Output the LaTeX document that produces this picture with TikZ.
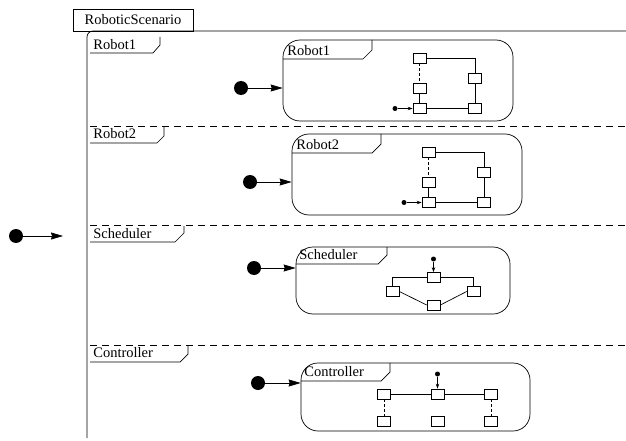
\documentclass[tikz,border=0pt]{standalone}
\usepackage{fontspec}
\setmainfont{Liberation Serif}
\usetikzlibrary{arrows.meta}

\begin{document}
\begin{tikzpicture}[x=1pt, y=-1pt, line width=0.7pt,
    font=\fontsize{14.5}{16}\selectfont,
    initdot/.style ={circle, fill, inner sep=0pt, minimum size=14pt},
    smalldot/.style ={circle, fill, inner sep=0pt, minimum size=5pt},
    statebox/.style ={draw, rectangle, rounded corners=17pt, inner sep=0pt},
    subbox/.style ={draw, rectangle, minimum width=13pt, minimum height=10pt, inner sep=0pt},
    lbl/.style ={anchor=west, inner sep=0pt},
    bigarrow/.style ={-{Stealth[length=12pt, width=7pt, inset=1pt]}},
    smallarrow/.style ={-{Stealth[length=5pt, width=3.5pt]}},
    shortdash/.style ={dash pattern=on 3pt off 2pt},
    longdash/.style ={dash pattern=on 7pt off 5pt}]
   \useasboundingbox (0,0) rectangle (626,441);

   % outer state and its regions
   \node[draw, minimum width=120, minimum height=22, inner sep=0pt] (scen) at (133,20) {RoboticScenario};
   \draw[rounded corners=6] (87,438) -- (87,31) -- (626,31);
   \draw[longdash] (90,126) -- (626,126);
   \draw[longdash] (90,225) -- (626,225);
   \draw[longdash] (90,345) -- (626,345);

   \node[lbl] (regrobot1) at (93,45) {Robot1};
   \draw (160,37) -- (160,45) -- (153,53) -- (90,53);
   \node[lbl] (regrobot2) at (93,134) {Robot2};
   \draw (164,127) -- (164,136) -- (157,143) -- (90,143);
   \node[lbl] (regsched) at (93,234) {Scheduler};
   \draw (184,226) -- (184,233) -- (175,242) -- (90,242);
   \node[lbl] (regctrl) at (93,353) {Controller};
   \draw (188,346) -- (188,354) -- (180,362) -- (90,362);

   \node[initdot] (init0) at (16,236) {};
   \coordinate (enter0) at (63,236);
   \draw[bigarrow] (init0) -- (enter0);

   % the two robots
   \foreach \n/\dx/\dy in {1/0/0, 2/9/94}{
   \begin{scope}[shift={(\dx,\dy)}]
   \node[statebox, minimum width=230, minimum height=81] (robot\n) at (398,80.5) {};
   \node[lbl] (robotlbl\n) at (287,51) {Robot\n};
   \draw (283,59) -- (363,59) -- (372,50) -- (372,40);
   \node[initdot] (rinit\n) at (241,88) {};
   \draw[bigarrow] (rinit\n) -- (robot\n.west |- rinit\n);

   \node[subbox] (ra\n) at (419.5,58) {};
   \node[subbox] (rb\n) at (475,78) {};
   \node[subbox] (rc\n) at (419.5,88.5) {};
   \node[subbox] (rd\n) at (419.5,108.5) {};
   \node[subbox] (re\n) at (475,108.5) {};
   \node[smalldot] (rdot\n) at (395,108.5) {};
   \draw (ra\n) -| (rb\n);
   \draw[shortdash] (ra\n) -- (rc\n);
   \draw (rc\n) -- (rd\n);
   \draw (rd\n) -- (re\n);
   \draw (rb\n) -- (re\n);
   \draw[smallarrow] (rdot\n) -- (rd\n);
   \end{scope}}

   % scheduler
   \node[statebox, minimum width=214, minimum height=67] (sched) at (403,280.5) {};
   \node[lbl] (schedlbl) at (299,255) {Scheduler};
   \draw (296,264) -- (378,264) -- (387,255) -- (387,247);
   \node[initdot] (sinit) at (254,268) {};
   \draw[bigarrow] (sinit) -- (sched.west |- sinit);
   \node[subbox] (sa) at (433.5,277.5) {};
   \node[subbox] (sl) at (392.5,291.5) {};
   \node[subbox] (sr) at (473.5,291.5) {};
   \node[subbox] (sb) at (433.5,305) {};
   \node[smalldot] (sdot) at (433.5,259) {};
   \draw (sa) -| (sl);
   \draw (sa) -| (sr);
   \draw (sl.east) -- (sb.west);
   \draw (sr.west) -- (sb.east);
   \draw[smallarrow] (sdot) -- (sa);

   % controller
   \node[statebox, minimum width=229, minimum height=68] (ctrl) at (415.5,397) {};
   \node[lbl] (ctrllbl) at (304,372) {Controller};
   \draw (301,381) -- (381,381) -- (390,372) -- (390,363);
   \node[initdot] (cinit) at (258,383) {};
   \draw[bigarrow] (cinit) -- (ctrl.west |- cinit);
   \node[subbox] (ca) at (384,394) {};
   \node[subbox] (cb) at (437.5,394) {};
   \node[subbox] (cc) at (491,394) {};
   \node[subbox] (cd) at (384,421.5) {};
   \node[subbox] (ce) at (437.5,421.5) {};
   \node[subbox] (cf) at (491,421.5) {};
   \node[smalldot] (cdot) at (437.5,374) {};
   \draw (ca) -- (cb) -- (cc);
   \draw[shortdash] (ca) -- (cd);
   \draw[shortdash] (cc) -- (cf);
   \draw[smallarrow] (cdot) -- (cb);
 \end{tikzpicture}
\end{document}
